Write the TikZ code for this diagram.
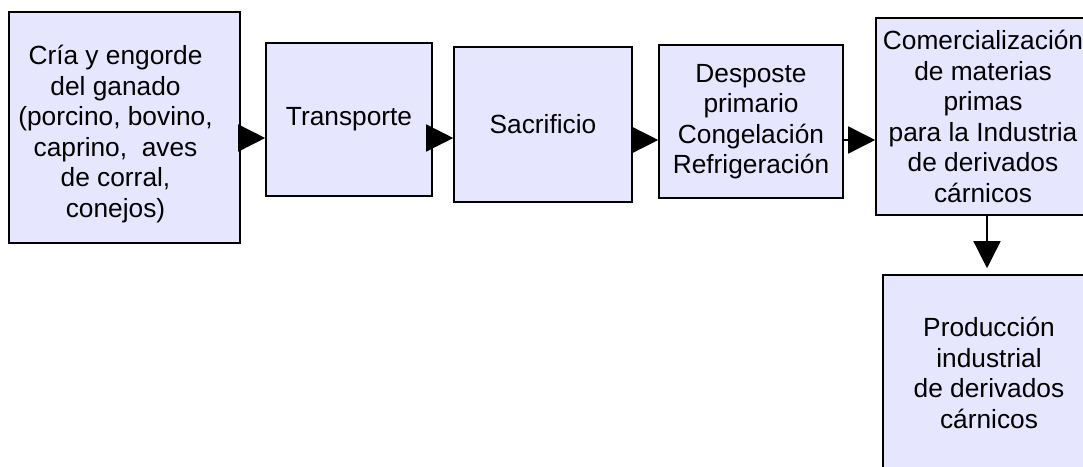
\documentclass[tikz,border=0pt]{standalone}
\usepackage{fontspec}
\setmainfont{Liberation Sans}
\usetikzlibrary{arrows.meta}
\definecolor{boxfill}{HTML}{E6E6FF}
\tikzset{
  stepbox/.style={draw=black, line width=1.6pt, fill=boxfill, inner sep=0pt,
    align=center, font=\fontsize{26.3}{30.5}\selectfont, text=black},
  arr/.style={draw=black, line width=1.5pt, -{Triangle[length=27pt,width=27pt]}},
}
\begin{document}
\begin{tikzpicture}[x=1pt,y=-1pt]
\useasboundingbox (0,0) rectangle (1083,466);
\clip (0,0) rectangle (1083,466);
\fill[white] (0,0) rectangle (1083,466);
\node[stepbox, minimum width=231pt, minimum height=231pt] (b1) at (124.5,127.5) {};
\node[font=\fontsize{26.3}{30.5}\selectfont, align=center, inner sep=0pt] (t1) at (115.5,134)
  {Cría y engorde\\del ganado\\(porcino, bovino,\\caprino,~ aves\\de corral,\\conejos)};
\node[stepbox, minimum width=166pt, minimum height=153pt] (b2) at (349,119.5) {Transporte};
\node[stepbox, minimum width=178pt, minimum height=155pt] (b3) at (543,124.5) {Sacrificio};
\node[stepbox, minimum width=184pt, minimum height=153pt] (b4) at (751,121.5)
  {Desposte\\primario\\Congelación\\Refrigeración};
\node[stepbox, minimum width=214pt, minimum height=197pt] (b5) at (983,116.5)
  {Comercialización\\de materias\\primas\\para la Industria\\de derivados\\cárnicos};
\node[stepbox, minimum width=212pt, minimum height=196pt] (b6) at (989,373)
  {Producción\\industrial\\de derivados\\cárnicos};
\coordinate (lvlA) at (0,138);
\coordinate (lvlB) at (0,140);
\coordinate (vx) at (987,0);
\draw[arr] (b1.east |- lvlA) -- (b2.west |- lvlA);
\draw[arr] (b2.east |- lvlA) -- (b3.west |- lvlA);
\draw[arr] (b3.east |- lvlB) -- (b4.west |- lvlB);
\draw[arr] (b4.east |- lvlB) -- (b5.west |- lvlB);
\draw[arr, shorten >=6pt] (b5.south -| vx) -- (b6.north -| vx);
\end{tikzpicture}
\end{document}
